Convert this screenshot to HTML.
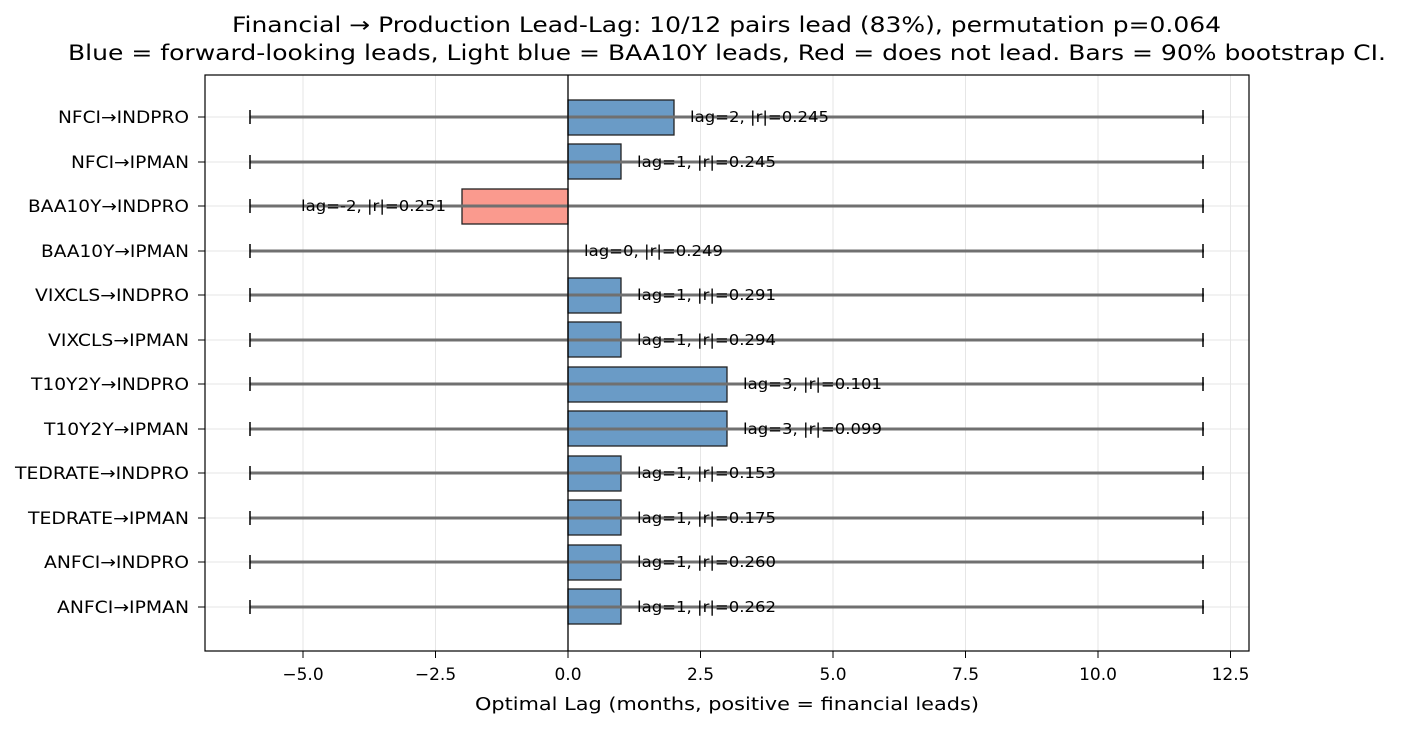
<!DOCTYPE html>
<html><head><meta charset="utf-8"><style>
body{margin:0;background:#fff}
svg text{font-family:"DejaVu Sans","Liberation Sans",sans-serif}
</style></head><body>
<svg width="1401" height="729" viewBox="0 0 1401 729" xmlns="http://www.w3.org/2000/svg">
<rect width="1401" height="729" fill="#fff"/>
<text x="232" y="32" font-size="21" textLength="989" lengthAdjust="spacingAndGlyphs">Financial → Production Lead-Lag: 10/12 pairs lead (83%), permutation p=0.064</text>
<text x="68" y="60" font-size="21" textLength="1318" lengthAdjust="spacingAndGlyphs">Blue = forward-looking leads, Light blue = BAA10Y leads, Red = does not lead. Bars = 90% bootstrap CI.</text>
<g stroke="#e6e6e6" stroke-width="1">
<line x1="303" y1="75" x2="303" y2="651"/><line x1="435.5" y1="75" x2="435.5" y2="651"/><line x1="568" y1="75" x2="568" y2="651"/><line x1="700.5" y1="75" x2="700.5" y2="651"/><line x1="833" y1="75" x2="833" y2="651"/><line x1="965.5" y1="75" x2="965.5" y2="651"/><line x1="1098" y1="75" x2="1098" y2="651"/><line x1="1230.5" y1="75" x2="1230.5" y2="651"/>
<line x1="205" y1="117" x2="1249" y2="117"/><line x1="205" y1="162" x2="1249" y2="162"/><line x1="205" y1="206" x2="1249" y2="206"/><line x1="205" y1="251" x2="1249" y2="251"/><line x1="205" y1="295" x2="1249" y2="295"/><line x1="205" y1="340" x2="1249" y2="340"/><line x1="205" y1="384" x2="1249" y2="384"/><line x1="205" y1="429" x2="1249" y2="429"/><line x1="205" y1="473" x2="1249" y2="473"/><line x1="205" y1="518" x2="1249" y2="518"/><line x1="205" y1="562" x2="1249" y2="562"/><line x1="205" y1="607" x2="1249" y2="607"/>
</g>
<g stroke="#222" stroke-width="1.3">
<rect x="568" y="100" width="106" height="35" fill="#6a9bc6"/>
<rect x="568" y="144" width="53" height="35" fill="#6a9bc6"/>
<rect x="462" y="189" width="106" height="35" fill="#fa9a8e"/>
<rect x="568" y="278" width="53" height="35" fill="#6a9bc6"/>
<rect x="568" y="322" width="53" height="35" fill="#6a9bc6"/>
<rect x="568" y="367" width="159" height="35" fill="#6a9bc6"/>
<rect x="568" y="411" width="159" height="35" fill="#6a9bc6"/>
<rect x="568" y="456" width="53" height="35" fill="#6a9bc6"/>
<rect x="568" y="500" width="53" height="35" fill="#6a9bc6"/>
<rect x="568" y="545" width="53" height="35" fill="#6a9bc6"/>
<rect x="568" y="589" width="53" height="35" fill="#6a9bc6"/>
</g>
<g stroke="#707070" stroke-width="3">
<line x1="250" y1="117" x2="1204" y2="117"/><line x1="250" y1="162" x2="1204" y2="162"/><line x1="250" y1="206" x2="1204" y2="206"/><line x1="250" y1="251" x2="1204" y2="251"/><line x1="250" y1="295" x2="1204" y2="295"/><line x1="250" y1="340" x2="1204" y2="340"/><line x1="250" y1="384" x2="1204" y2="384"/><line x1="250" y1="429" x2="1204" y2="429"/><line x1="250" y1="473" x2="1204" y2="473"/><line x1="250" y1="518" x2="1204" y2="518"/><line x1="250" y1="562" x2="1204" y2="562"/><line x1="250" y1="607" x2="1204" y2="607"/>
</g>
<g stroke="#000" stroke-width="1.5">
<line x1="250" y1="110" x2="250" y2="124"/><line x1="1203" y1="110" x2="1203" y2="124"/>
<line x1="250" y1="155" x2="250" y2="169"/><line x1="1203" y1="155" x2="1203" y2="169"/>
<line x1="250" y1="199" x2="250" y2="213"/><line x1="1203" y1="199" x2="1203" y2="213"/>
<line x1="250" y1="244" x2="250" y2="258"/><line x1="1203" y1="244" x2="1203" y2="258"/>
<line x1="250" y1="288" x2="250" y2="302"/><line x1="1203" y1="288" x2="1203" y2="302"/>
<line x1="250" y1="333" x2="250" y2="347"/><line x1="1203" y1="333" x2="1203" y2="347"/>
<line x1="250" y1="377" x2="250" y2="391"/><line x1="1203" y1="377" x2="1203" y2="391"/>
<line x1="250" y1="422" x2="250" y2="436"/><line x1="1203" y1="422" x2="1203" y2="436"/>
<line x1="250" y1="466" x2="250" y2="480"/><line x1="1203" y1="466" x2="1203" y2="480"/>
<line x1="250" y1="511" x2="250" y2="525"/><line x1="1203" y1="511" x2="1203" y2="525"/>
<line x1="250" y1="555" x2="250" y2="569"/><line x1="1203" y1="555" x2="1203" y2="569"/>
<line x1="250" y1="600" x2="250" y2="614"/><line x1="1203" y1="600" x2="1203" y2="614"/>
</g>
<line x1="568" y1="75" x2="568" y2="651" stroke="#000" stroke-width="1.3"/>
<g font-size="15.5">
<text x="690" y="122" textLength="139" lengthAdjust="spacingAndGlyphs">lag=2, |r|=0.245</text>
<text x="637" y="167" textLength="139" lengthAdjust="spacingAndGlyphs">lag=1, |r|=0.245</text>
<text x="301" y="211" textLength="145" lengthAdjust="spacingAndGlyphs">lag=-2, |r|=0.251</text>
<text x="584" y="256" textLength="139" lengthAdjust="spacingAndGlyphs">lag=0, |r|=0.249</text>
<text x="637" y="300" textLength="139" lengthAdjust="spacingAndGlyphs">lag=1, |r|=0.291</text>
<text x="637" y="345" textLength="139" lengthAdjust="spacingAndGlyphs">lag=1, |r|=0.294</text>
<text x="743" y="389" textLength="139" lengthAdjust="spacingAndGlyphs">lag=3, |r|=0.101</text>
<text x="743" y="434" textLength="139" lengthAdjust="spacingAndGlyphs">lag=3, |r|=0.099</text>
<text x="637" y="478" textLength="139" lengthAdjust="spacingAndGlyphs">lag=1, |r|=0.153</text>
<text x="637" y="523" textLength="139" lengthAdjust="spacingAndGlyphs">lag=1, |r|=0.175</text>
<text x="637" y="567" textLength="139" lengthAdjust="spacingAndGlyphs">lag=1, |r|=0.260</text>
<text x="637" y="612" textLength="139" lengthAdjust="spacingAndGlyphs">lag=1, |r|=0.262</text>
</g>
<rect x="205" y="75" width="1044" height="576" fill="none" stroke="#000" stroke-width="1.2"/>
<g stroke="#000" stroke-width="1">
<line x1="198" y1="117" x2="205" y2="117"/><line x1="198" y1="162" x2="205" y2="162"/><line x1="198" y1="206" x2="205" y2="206"/><line x1="198" y1="251" x2="205" y2="251"/><line x1="198" y1="295" x2="205" y2="295"/><line x1="198" y1="340" x2="205" y2="340"/><line x1="198" y1="384" x2="205" y2="384"/><line x1="198" y1="429" x2="205" y2="429"/><line x1="198" y1="473" x2="205" y2="473"/><line x1="198" y1="518" x2="205" y2="518"/><line x1="198" y1="562" x2="205" y2="562"/><line x1="198" y1="607" x2="205" y2="607"/>
<line x1="303" y1="651" x2="303" y2="658"/><line x1="435.5" y1="651" x2="435.5" y2="658"/><line x1="568" y1="651" x2="568" y2="658"/><line x1="700.5" y1="651" x2="700.5" y2="658"/><line x1="833" y1="651" x2="833" y2="658"/><line x1="965.5" y1="651" x2="965.5" y2="658"/><line x1="1098" y1="651" x2="1098" y2="658"/><line x1="1230.5" y1="651" x2="1230.5" y2="658"/>
</g>
<g font-size="17">
<text x="58" y="123" textLength="131" lengthAdjust="spacingAndGlyphs">NFCI→INDPRO</text>
<text x="71" y="168" textLength="118" lengthAdjust="spacingAndGlyphs">NFCI→IPMAN</text>
<text x="28" y="212" textLength="161" lengthAdjust="spacingAndGlyphs">BAA10Y→INDPRO</text>
<text x="41" y="257" textLength="148" lengthAdjust="spacingAndGlyphs">BAA10Y→IPMAN</text>
<text x="35" y="301" textLength="154" lengthAdjust="spacingAndGlyphs">VIXCLS→INDPRO</text>
<text x="48" y="346" textLength="141" lengthAdjust="spacingAndGlyphs">VIXCLS→IPMAN</text>
<text x="31" y="390" textLength="158" lengthAdjust="spacingAndGlyphs">T10Y2Y→INDPRO</text>
<text x="44" y="435" textLength="145" lengthAdjust="spacingAndGlyphs">T10Y2Y→IPMAN</text>
<text x="15" y="479" textLength="174" lengthAdjust="spacingAndGlyphs">TEDRATE→INDPRO</text>
<text x="28" y="524" textLength="161" lengthAdjust="spacingAndGlyphs">TEDRATE→IPMAN</text>
<text x="44" y="568" textLength="145" lengthAdjust="spacingAndGlyphs">ANFCI→INDPRO</text>
<text x="57" y="613" textLength="132" lengthAdjust="spacingAndGlyphs">ANFCI→IPMAN</text>
</g>
<g font-size="17" text-anchor="middle">
<text x="303" y="680">−5.0</text><text x="435.5" y="680">−2.5</text><text x="568" y="680">0.0</text><text x="700.5" y="680">2.5</text><text x="833" y="680">5.0</text><text x="965.5" y="680">7.5</text><text x="1098" y="680">10.0</text><text x="1230.5" y="680">12.5</text>
</g>
<text x="475" y="710" font-size="17.5" textLength="504" lengthAdjust="spacingAndGlyphs">Optimal Lag (months, positive = financial leads)</text>
</svg>
</body></html>
